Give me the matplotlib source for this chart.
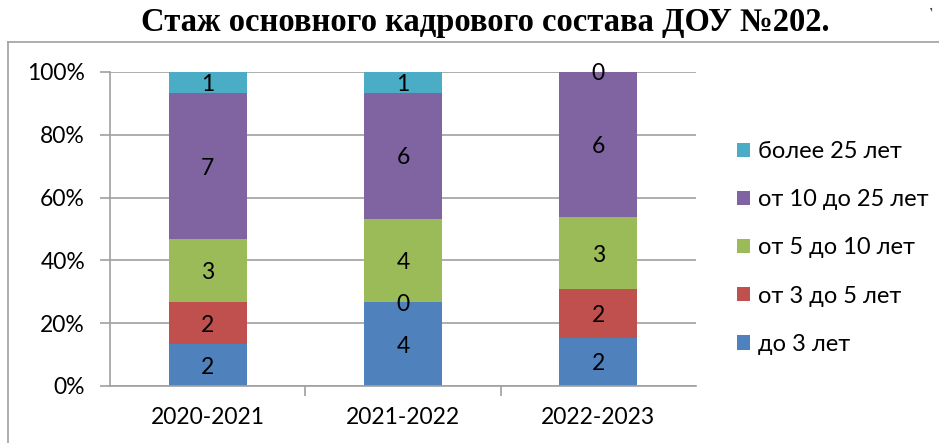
import numpy as np
import matplotlib.pyplot as plt
from matplotlib.lines import Line2D

# данные диаграммы
years = ['2020-2021', '2021-2022', '2022-2023']
groups = ['до 3 лет', 'от 3 до 5 лет', 'от 5 до 10 лет', 'от 10 до 25 лет', 'более 25 лет']
do_3 = [2, 4, 2]
ot_3_do_5 = [2, 0, 2]
ot_5_do_10 = [3, 4, 3]
ot_10_do_25 = [7, 6, 6]
bolee_25 = [1, 1, 0]
colors = ['#4F81BD', '#C0504D', '#9BBB59', '#8064A2', '#4BACC6']

plt.rcParams['font.family'] = ['Lato', 'DejaVu Sans']

values = np.array([do_3, ot_3_do_5, ot_5_do_10, ot_10_do_25, bolee_25], dtype=float)
totals = values.sum(axis=0)
perc = values / totals * 100

fig = plt.figure(figsize=(9.39, 4.43), dpi=100)
ax = fig.add_axes([110/939, 1-386/443, (696-110)/939, (386-72)/443])

x = np.arange(len(years))
bottom = np.zeros(len(years))
bars = []
for i in range(len(groups)):
    b = ax.bar(x, perc[i], 0.4, bottom=bottom, color=colors[i], label=groups[i], zorder=2)
    bars.append(b)
    for j in range(len(years)):
        ax.text(x[j], bottom[j] + perc[i][j] / 2, str(int(values[i][j])),
                ha='center', va='center_baseline', fontsize=16.5, zorder=3)
    bottom += perc[i]

ax.set_xlim(-0.5, 2.5)
ax.set_ylim(0, 100)
ax.set_yticks(np.arange(0, 101, 20))
ax.set_yticklabels([f'{v}%' for v in range(0, 101, 20)], fontsize=16.5)
ax.yaxis.grid(True, color='#A0A0A0', linewidth=1.2, zorder=0)
ax.set_xticks(x)
ax.set_xticklabels(years, fontsize=16.5)
ax.set_xticks([0.5, 1.5], minor=True)
ax.tick_params(axis='x', which='major', length=0, pad=15)
ax.tick_params(axis='x', which='minor', length=7, color='#A0A0A0', width=1.2)
ax.tick_params(axis='y', length=7, color='#A0A0A0', width=1.2, pad=11)
for s in ['top', 'right']:
    ax.spines[s].set_visible(False)
for s in ['left', 'bottom']:
    ax.spines[s].set_color('#A0A0A0')
    ax.spines[s].set_linewidth(1.2)

handles = [bars[i] for i in range(len(groups) - 1, -1, -1)]
labels = [groups[i] for i in range(len(groups) - 1, -1, -1)]
fig.legend(handles, labels, loc='center left', bbox_to_anchor=(737/939, 1-248/443),
           frameon=False, fontsize=17, handlelength=0.55, handleheight=0.55,
           handletextpad=0.35, labelspacing=1.15, borderaxespad=0, borderpad=0)

fig.text(485/939, 1-22/443, 'Стаж основного кадрового состава ДОУ №202.',
         ha='center', va='center', fontsize=23.5, fontweight='bold', family='Liberation Serif')
fig.text(930/939, 1-6/443, ',', ha='center', va='center', fontsize=10, rotation=20)

# рамка диаграммы
fig.add_artist(Line2D([8/939, 8/939], [0, 1-42/443], color='#A0A0A0', lw=1.2))
fig.add_artist(Line2D([8/939, 1], [1-42/443, 1-42/443], color='#A0A0A0', lw=1.2))

fig.savefig('out.png', dpi=100)
